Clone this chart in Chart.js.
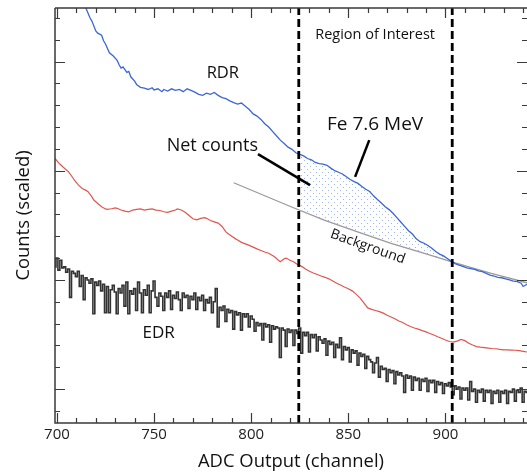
<!DOCTYPE html>
<html><head><meta charset="utf-8">
<script src="https://cdn.jsdelivr.net/npm/chart.js@4/dist/chart.umd.min.js"></script>
<style>html,body{margin:0;padding:0;background:#fff;}</style>
</head><body>
<canvas id="c" width="527" height="473"></canvas>
<script>
// ---- data ----
const xTickLabels = [700, 750, 800, 850, 900];
const roiChannels = [824.5, 903.5];

const rdrChannels = [714,715,717,718,720,721,723,724,725,727,729,731,732,733,734,736,737,738,740,741,743,745,747,749,750,752,754,755,757,759,761,763,765,767,769,771,773,775,777,779,781,783,785,787,789,791,793,795,797,799,801,803,805,807,809,811,813,815,817,819,821,823,825,827,829,831,833,835,837,839,841,843,845,847,849,851,853,855,857,859,861,863,865,867,869,871,873,875,877,879,881,883,885,887,889,891,893,895,897,899,901,903,905,907,909,911,913,915,917,919,921,923,925,927,929,931,933,935,937,939,940,942];
const rdrCounts = [19.6,19.43,19.0,18.85,18.4,18.3,18.2,17.95,17.8,17.4,17.25,17.05,16.85,16.7,16.75,16.5,16.55,16.3,16.1,15.95,15.82,15.78,15.72,15.8,15.7,15.75,15.62,15.72,15.65,15.75,15.68,15.72,15.62,15.75,15.68,15.6,15.5,15.45,15.55,15.5,15.58,15.45,15.35,15.3,15.2,15.12,15.05,15.1,14.95,14.8,14.6,14.5,14.35,14.15,14.0,13.8,13.6,13.4,13.25,13.08,12.98,12.82,12.75,12.68,12.56,12.5,12.38,12.32,12.3,12.25,12.12,12.0,11.93,11.85,11.72,11.6,11.5,11.42,11.28,11.15,11.05,10.85,10.68,10.52,10.35,10.22,10.05,9.85,9.65,9.45,9.25,9.1,8.88,8.75,8.68,8.58,8.45,8.3,8.18,8.1,7.98,7.85,7.75,7.68,7.62,7.55,7.52,7.48,7.42,7.38,7.3,7.22,7.18,7.12,7.1,7.05,7.0,6.95,6.92,6.85,6.7,6.8];

const redChannels = [699,701,702,704,706,708,709,711,713,715,716,718,719,721,723,725,726,728,730,731,733,735,737,739,741,743,745,747,749,751,753,755,757,759,761,762,764,766,768,770,772,774,776,777,779,781,783,785,787,788,790,792,793,795,797,799,801,803,805,807,809,811,812,814,815,817,818,820,822,824,826,828,830,832,834,836,838,840,842,844,846,848,850,852,854,856,858,860,862,864,866,868,870,872,874,876,878,880,882,884,886,888,890,892,894,896,898,900,902,904,906,908,910,912,914,916,918,920,922,924,926,928,930,932,934,936,938,940,942];
const redCounts = [12.56,12.35,12.26,12.1,11.95,11.7,11.57,11.35,11.19,11.1,11.04,10.8,10.66,10.5,10.35,10.25,10.23,10.26,10.3,10.28,10.2,10.15,10.12,10.2,10.23,10.25,10.2,10.23,10.25,10.2,10.18,10.12,10.09,10.15,10.2,10.25,10.2,10.1,9.95,9.8,9.75,9.82,9.85,9.82,9.72,9.66,9.6,9.45,9.2,9.13,9.0,8.88,8.83,8.72,8.65,8.58,8.5,8.42,8.35,8.28,8.22,8.12,8.06,7.9,7.83,7.97,8.0,7.9,7.82,7.7,7.62,7.5,7.4,7.32,7.25,7.18,7.12,7.05,6.95,6.85,6.77,6.68,6.6,6.5,6.35,6.18,5.95,5.72,5.65,5.6,5.55,5.48,5.38,5.3,5.22,5.12,5.05,4.95,4.87,4.8,4.75,4.68,4.62,4.55,4.48,4.4,4.33,4.25,4.18,4.15,4.2,4.28,4.22,4.1,4.02,3.95,3.92,3.9,3.88,3.86,3.85,3.82,3.8,3.8,3.79,3.78,3.76,3.73,3.7];

const edrFirstChannel = 699;
const edrCounts = [
7.6,8.0,7.45,7.9,7.55,7.6,7.35,7.5,6.2,7.4,
7.3,7.15,7.4,6.7,7.2,6.1,7.1,7.0,6.85,7.05,
5.45,6.9,6.75,6.95,6.5,6.8,5.5,6.7,5.5,6.55,
6.75,6.45,5.45,6.6,6.4,6.75,5.8,6.9,5.45,6.5,
6.35,6.6,5.6,6.9,6.4,5.5,6.55,6.3,6.75,5.5,
6.5,6.95,6.2,5.8,6.4,6.25,5.6,6.4,6.2,6.5,
5.65,6.3,6.15,6.45,6.1,5.6,6.4,6.2,6.3,5.7,
6.25,6.1,6.4,5.65,6.2,6.05,6.3,5.6,6.1,5.95,
6.2,5.5,6.0,6.6,4.85,5.75,5.6,5.8,5.1,5.65,
5.5,5.6,4.75,5.55,5.4,5.5,4.7,5.45,5.3,5.45,
4.85,5.35,5.2,4.65,5.05,4.9,5.0,4.25,5.0,4.85,
4.95,4.15,4.9,4.75,4.85,4.8,3.45,4.8,4.7,3.95,
4.75,4.6,4.7,4.0,4.7,4.55,4.8,3.65,4.6,4.45,
4.6,3.7,4.5,4.35,4.5,3.75,4.4,4.25,4.1,4.3,
3.55,4.2,4.05,4.15,3.45,4.05,3.9,4.35,3.35,3.95,
3.8,3.9,3.25,3.8,3.65,3.75,3.1,3.65,3.5,3.6,
2.95,3.5,3.35,3.25,2.75,3.2,3.45,2.55,3.05,2.9,
2.95,2.35,2.9,2.75,2.85,2.25,2.8,2.65,2.75,2.6,
1.85,2.65,2.5,2.6,1.95,2.55,2.4,2.5,1.95,2.45,
2.35,2.5,1.9,2.4,2.3,2.4,1.85,2.35,2.2,2.3,
1.8,2.25,2.15,2.3,2.1,1.75,2.15,2.0,2.1,1.55,
2.05,1.95,2.05,1.5,2.35,1.9,2.0,1.4,1.95,1.85,
2.0,1.45,1.95,1.85,1.95,1.35,1.9,1.8,1.95,1.4,
1.9,1.8,1.95,1.35,1.9,1.85,2.0,1.45,1.95,1.85,
2.05,1.4,1.9,1.85];

const bgChannels = [791, 820.5, 837.6, 854.8, 872, 889.2, 904.6, 923.6, 942];
const bgCounts = [11.45, 10.35, 9.74, 9.2, 8.67, 8.22, 7.79, 7.3, 6.87];

// annotation anchors in data units [channel, counts]
const netPointer = [[803.5, 12.76], [830.3, 11.34]];
const fePointer = [[860.8, 13.40], [853.5, 11.72]];
const labels = [
  {text: 'Region of Interest', x: 863.8, y: 18.21, size: 14.5, rot: 0},
  {text: 'RDR', x: 785.4, y: 16.47, size: 16.5, rot: 0},
  {text: 'Net counts', x: 780, y: 13.13, size: 18, rot: 0},
  {text: 'Fe 7.6 MeV', x: 863.8, y: 14.13, size: 19, rot: 0},
  {text: 'EDR', x: 752.4, y: 4.57, size: 17, rot: 0},
  {text: 'Background', x: 860, y: 8.52, size: 14, rot: 19.6}
];

// ---- build ----
const Y_MIN = 0.45, Y_MAX = 19.45, X_MIN = 699, X_MAX = 942;
const pts = (xs, ys) => xs.map((x, i) => ({x, y: ys[i]}));
const rdr = pts(rdrChannels, rdrCounts);
const red = pts(redChannels, redCounts);
const edr = edrCounts.map((v, i) => ({x: edrFirstChannel + i, y: v}));
const bg = pts(bgChannels, bgCounts);
const net = rdr.filter(p => p.x >= roiChannels[0] && p.x <= roiChannels[1]);

// dotted pattern for net counts
const pc = document.createElement('canvas');
pc.width = 6; pc.height = 6;
const pctx = pc.getContext('2d');
pctx.fillStyle = 'rgba(80,120,200,0.55)';
pctx.fillRect(1, 1, 1, 1);
pctx.fillRect(4, 4, 1, 1);
const dotPattern = pctx.createPattern(pc, 'repeat');

const FONT = "'Open Sans', 'Noto Sans', sans-serif";

const framePlugin = {
  id: 'frame',
  afterDatasetsDraw(chart) {
    const {ctx, chartArea: a, scales: {x, y}} = chart;
    ctx.save();
    ctx.strokeStyle = '#3a3a3a';
    ctx.lineWidth = 1.5;
    ctx.beginPath();
    ctx.moveTo(a.left, a.top); ctx.lineTo(a.left, a.bottom); ctx.lineTo(a.right, a.bottom);
    ctx.moveTo(a.left, a.top); ctx.lineTo(a.right, a.top);
    ctx.stroke();
    ctx.lineWidth = 1.2;
    ctx.beginPath();
    for (let v = 700; v <= 940; v += 10) {
      const px = Math.round(x.getPixelForValue(v)) + 0.5;
      const len = (v % 50 === 0) ? 10 : 5;
      ctx.moveTo(px, a.bottom); ctx.lineTo(px, a.bottom - len);
      ctx.moveTo(px, a.top); ctx.lineTo(px, a.top + len);
    }
    for (let v = 1; v <= 19; v++) {
      const py = Math.round(y.getPixelForValue(v)) + 0.5;
      const len = ((v - 2) % 5 === 0) ? 10 : 5;
      ctx.moveTo(a.left, py); ctx.lineTo(a.left + len, py);
      ctx.moveTo(a.right, py); ctx.lineTo(a.right - len, py);
    }
    ctx.stroke();
    // text labels
    ctx.fillStyle = '#111';
    ctx.textAlign = 'center';
    ctx.textBaseline = 'middle';
    labels.forEach(l => {
      ctx.save();
      ctx.translate(x.getPixelForValue(l.x), y.getPixelForValue(l.y));
      ctx.rotate(l.rot * Math.PI / 180);
      ctx.font = l.size + 'px ' + FONT;
      ctx.fillText(l.text, 0, 0);
      ctx.restore();
    });
    ctx.restore();
  }
};

new Chart(document.getElementById('c'), {
  type: 'line',
  data: {
    datasets: [
      {label: 'ROI low', data: [{x: roiChannels[0], y: Y_MIN}, {x: roiChannels[0], y: Y_MAX}], borderColor: '#000', borderWidth: 2.8, borderDash: [8, 4], order: 0},
      {label: 'ROI high', data: [{x: roiChannels[1], y: Y_MIN}, {x: roiChannels[1], y: Y_MAX}], borderColor: '#000', borderWidth: 2.8, borderDash: [8, 4], order: 0},
      {label: 'net pointer', data: netPointer.map(p => ({x: p[0], y: p[1]})), borderColor: '#000', borderWidth: 2.5, order: 1},
      {label: 'fe pointer', data: fePointer.map(p => ({x: p[0], y: p[1]})), borderColor: '#000', borderWidth: 2.5, order: 1},
      {label: 'RDR', data: rdr, borderColor: '#3b66d8', borderWidth: 1.3, order: 2},
      {label: 'Net counts', data: net, borderWidth: 0, borderColor: 'rgba(0,0,0,0)', backgroundColor: dotPattern, fill: {target: 6}, order: 5},
      {label: 'Background', data: bg, borderColor: '#9a9a9a', borderWidth: 1.3, order: 3},
      {label: 'Reference', data: red, borderColor: '#e0564f', borderWidth: 1.2, order: 3},
      {label: 'EDR', data: edr, borderColor: '#333333', borderWidth: 1.6, stepped: 'middle', order: 4}
    ]
  },
  options: {
    responsive: false,
    animation: false,
    layout: {padding: {top: 8, right: 0, left: 0, bottom: 0}},
    plugins: {legend: {display: false}, tooltip: {enabled: false}},
    elements: {point: {radius: 0}, line: {tension: 0}},
    scales: {
      x: {
        type: 'linear', min: X_MIN, max: X_MAX,
        afterFit: s => { s.height = 50; },
        afterBuildTicks: s => { s.ticks = xTickLabels.map(v => ({value: v})); },
        grid: {display: false, drawTicks: false},
        border: {display: false},
        ticks: {font: {family: FONT, size: 15}, color: '#222', padding: 3, maxRotation: 0, autoSkip: false},
        title: {display: true, text: 'ADC Output (channel)', font: {family: FONT, size: 18.4}, color: '#111', padding: {top: 0, bottom: 0}}
      },
      y: {
        type: 'linear', min: Y_MIN, max: Y_MAX,
        afterFit: s => { s.width = 55; },
        grid: {display: false, drawTicks: false},
        border: {display: false},
        ticks: {display: false},
        title: {display: true, text: 'Counts (scaled)', font: {family: FONT, size: 18.4}, color: '#111', padding: {top: 13, bottom: 0}}
      }
    }
  },
  plugins: [framePlugin]
});
</script>
</body></html>
